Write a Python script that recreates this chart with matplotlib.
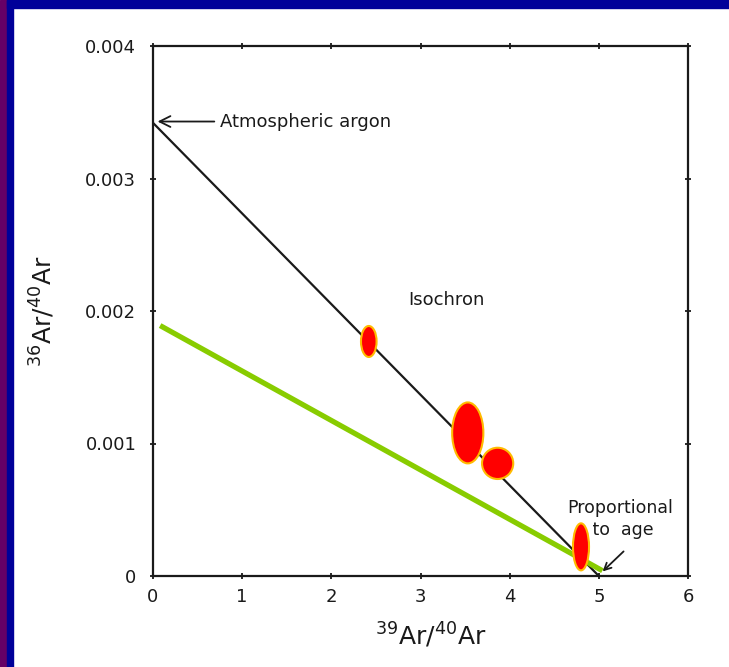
import matplotlib.pyplot as plt
from matplotlib.patches import Ellipse, Rectangle

# data
iso_x = [0.0, 5.0]
iso_y = [0.00342, 0.0]

green_x = [0.08, 5.04]
green_y = [0.00189, 0.00004]

pt_x = [2.42, 3.53, 3.865, 4.80]
pt_y = [0.00177, 0.00108, 0.00085, 0.00022]
pt_w = [0.175, 0.35, 0.35, 0.18]
pt_h = [0.000234, 0.00046, 0.000236, 0.000355]

x_ticks = [0, 1, 2, 3, 4, 5, 6]
y_ticks = [0, 0.001, 0.002, 0.003, 0.004]
y_ticklabels = ["0", "0.001", "0.002", "0.003", "0.004"]

plt.rcParams["font.family"] = ["DejaVu Sans"]
plt.rcParams["mathtext.default"] = "regular"

INK = "#1a1a1a"

fig = plt.figure(figsize=(7.29, 6.67), dpi=100)
fig.patch.set_facecolor("white")

# slide border
fig.add_artist(Rectangle((0, 0), 7/729, 1, transform=fig.transFigure,
                         color="#660066", zorder=0))
fig.add_artist(Rectangle((7/729, 0), 6/729, 1, transform=fig.transFigure,
                         color="#000099", zorder=0))
fig.add_artist(Rectangle((7/729, 1 - 8/667), 1, 8/667, transform=fig.transFigure,
                         color="#000099", zorder=0))

ax = fig.add_axes([153/729, 1 - 576/667, 535/729, 530/667])
ax.set_xlim(0, 6)
ax.set_ylim(0, 0.004)

ax.plot(iso_x, iso_y, color=INK, lw=1.6, zorder=2)
ax.plot(green_x, green_y, color="#88cc00", lw=3.8, solid_capstyle="butt", zorder=3)

for x, y, w, h in zip(pt_x, pt_y, pt_w, pt_h):
    ax.add_patch(Ellipse((x, y), w, h, facecolor="red",
                         edgecolor="#ffbb00", lw=1.5, zorder=4))

# annotations
ax.annotate("Atmospheric argon", xy=(0.02, 0.00343), xytext=(0.75, 0.00343),
            fontsize=13, va="center", ha="left", color=INK,
            arrowprops=dict(arrowstyle="->,head_length=0.6,head_width=0.3",
                            color=INK, lw=1.3))
ax.text(3.29, 0.00208, "Isochron", fontsize=13, ha="center", va="center",
        color=INK)
ax.text(5.245, 0.00043, "Proportional\n to  age", fontsize=12.5, ha="center",
        va="center", color=INK, linespacing=1.3)
ax.annotate("", xy=(5.02, 0.00002), xytext=(5.3, 0.0002),
            arrowprops=dict(arrowstyle="->,head_length=0.5,head_width=0.25",
                            color=INK, lw=1.3))

ax.set_xticks(x_ticks)
ax.set_yticks(y_ticks)
ax.set_yticklabels(y_ticklabels)
ax.tick_params(axis="both", labelsize=13, direction="out", length=4,
               width=1.3, colors=INK)
ax.tick_params(axis="x", pad=7)
ax.tick_params(axis="y", pad=10)
ax.tick_params(top=True, right=True, direction="inout")

for s in ax.spines.values():
    s.set_linewidth(1.6)
    s.set_color(INK)

ax.set_xlabel(r"$^{39}$Ar/$^{40}$Ar", fontsize=18, labelpad=8, color=INK)
ax.xaxis.set_label_coords(0.52, -0.085)
ax.set_ylabel(r"$^{36}$Ar/$^{40}$Ar", fontsize=18, labelpad=20, color=INK)

fig.savefig("out.png", dpi=100)
